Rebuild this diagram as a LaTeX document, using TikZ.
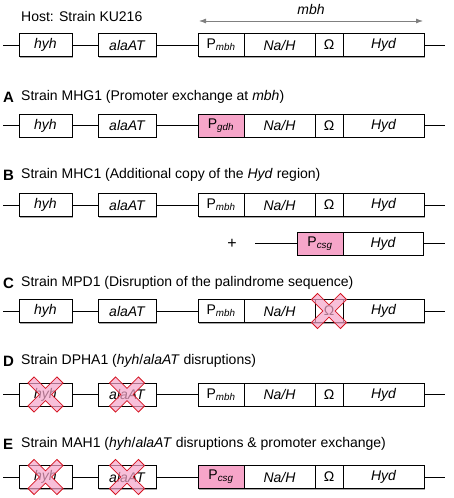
\documentclass[tikz,border=0pt]{standalone}
\usepackage{fontspec}
\setmainfont{Liberation Sans}
\usepackage{tikz}
\usetikzlibrary{arrows.meta,shadows}
\definecolor{pinkbox}{HTML}{F6A5C9}
\definecolor{kored}{HTML}{D4131F}
\tikzset{
  gene/.style={draw, fill=white, line width=0.8pt, outer sep=0pt, inner sep=0pt,
    minimum height=23, font=\fontsize{14}{16}\selectfont\itshape,
    drop shadow={shadow xshift=1.4pt, shadow yshift=-1.4pt, opacity=0.35, fill=black}},
  head/.style={anchor=west, inner sep=0pt, font=\fontsize{14}{16}\selectfont},
  knockout/.pic={
    \draw[draw=kored, fill=pinkbox, fill opacity=0.7, line width=0.8pt, rotate=45]
      (20.5,4.3) -- (4.3,4.3) -- (4.3,20.5) -- (-4.3,20.5) -- (-4.3,4.3) -- (-20.5,4.3) -- (-20.5,-4.3)
      -- (-4.3,-4.3) -- (-4.3,-20.5) -- (4.3,-20.5) -- (4.3,-4.3) -- (20.5,-4.3) -- cycle;
  }
}
\begin{document}
\begin{tikzpicture}[x=1pt,y=-1pt]
  \useasboundingbox (0,0) rectangle (454,498);
  % headings
  \node[head] (t0) at (21,16) {Host: Strain KU216};
  \node[head] (tA) at (21,97) {Strain MHG1 (Promoter exchange at \textit{mbh})};
  \node[head] (tB) at (21,175) {Strain MHC1 (Additional copy of the \textit{Hyd} region)};
  \node[head] (tC) at (21,283) {Strain MPD1 (Disruption of the palindrome sequence)};
  \node[head] (tD) at (21,361) {Strain DPHA1 (\textit{hyh}/\textit{alaAT} disruptions)};
  \node[head] (tE) at (21,444) {Strain MAH1 (\textit{hyh}/\textit{alaAT} disruptions \& promoter exchange)};
  \foreach \r in {A,B,C,D,E}
    \node[head, font=\fontsize{15}{16}\selectfont\bfseries] (l\r) at (3,0 |- t\r.west) {\r};
  % mbh span
  \coordinate (mbhL) at (199,21);
  \coordinate (mbhR) at (423,21);
  \draw[gray, line width=0.8pt, {Latex[length=7pt,width=5pt]}-{Latex[length=7pt,width=5pt]}] (mbhL) -- node[above=3pt, black, font=\fontsize{14}{16}\selectfont\itshape] (mbh) {mbh} (mbhR);
  % gene rows
  \foreach \y/\r/\p/\c in {45/0/mbh/white, 125.5/A/gdh/pinkbox, 205/B/mbh/white,
      311/C/mbh/white, 394.5/D/mbh/white, 477/E/csg/pinkbox}{
    \coordinate (s\r) at (3,\y);
    \coordinate (e\r) at (445,\y);
    \draw[line width=0.8pt] (s\r) -- (e\r);
    \node[gene, minimum width=53] (hyh\r) at (45.5,\y) {hyh};
    \node[gene, minimum width=58] (ala\r) at (127,\y) {alaAT};
    \node[gene, minimum width=46, fill=\c] (pro\r) at (221,\y) {\upshape P\textsubscript{\itshape\p}};
    \node[gene, minimum width=71] (nah\r) at (279.5,\y) {Na/H};
    \node[gene, minimum width=28] (om\r) at (329,\y) {\upshape Ω};
    \node[gene, minimum width=81] (hyd\r) at (383.5,\y) {Hyd};
  }
  % extra Hyd copy
  \node[head, anchor=center, font=\fontsize{16}{16}\selectfont] (plus) at (232,244) {+};
  \coordinate (sB2) at (255,243.5);
  \coordinate (eB2) at (445,243.5);
  \draw[line width=0.8pt] (sB2) -- (eB2);
  \node[gene, minimum width=46, fill=pinkbox] (proB2) at (320,243.5) {\upshape P\textsubscript{\itshape csg}};
  \node[gene, minimum width=80] (hydB2) at (383,243.5) {Hyd};
  % disruptions
  \pic at (omC) {knockout};
  \pic at (hyhD) {knockout};
  \pic at (alaD) {knockout};
  \pic at (hyhE) {knockout};
  \pic at (alaE) {knockout};
\end{tikzpicture}
\end{document}
